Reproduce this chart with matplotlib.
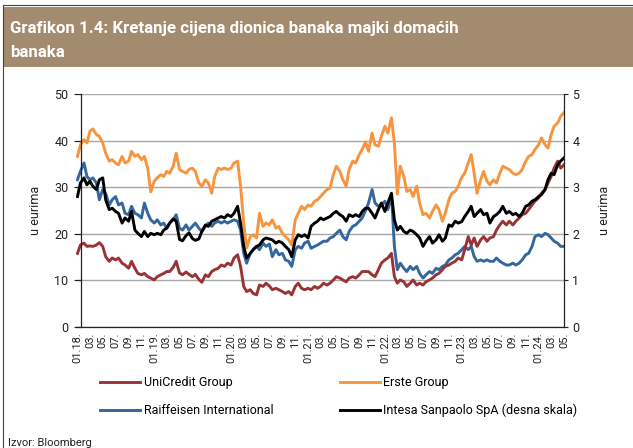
import pandas as pd
import matplotlib
matplotlib.use('Agg')
import matplotlib.pyplot as plt
import matplotlib.dates as mdates
from matplotlib.lines import Line2D
from matplotlib.patches import Rectangle

plt.rcParams['font.family'] = ['Roboto', 'DejaVu Sans']

# semi-monthly readings, 01.2018 - 05.2024
dates = pd.date_range('2018-01-01', '2024-05-01', freq='SMS')

unicredit = [
    15.8, 17.6, 18.0, 17.3, 17.4, 17.3, 17.6, 18.1, 17.3, 15.1, 14.1, 14.8,
    14.4, 14.8, 13.7, 13.3, 12.6, 14.1, 12.6, 11.5, 11.2, 11.5, 10.8, 10.5,
    10.1, 10.8, 11.2, 11.5, 11.9, 11.9, 12.8, 14.1, 11.6, 11.2, 11.8, 11.3,
    10.8, 11.3, 10.2, 9.6, 11.2, 10.8, 11.9, 12.3, 12.6, 13.3, 13.0, 13.7,
    13.3, 14.8, 15.5, 13.0, 8.7, 7.6, 8.0, 7.2, 6.9, 9.0, 8.7, 9.4,
    8.8, 8.0, 8.3, 8.0, 7.6, 7.2, 7.6, 6.9, 8.7, 9.4, 8.3, 8.0,
    8.3, 8.0, 8.7, 8.3, 8.7, 9.4, 9.0, 9.4, 10.1, 10.8, 10.5, 10.1,
    9.7, 10.5, 10.8, 10.5, 11.2, 11.9, 11.9, 11.9, 11.2, 10.8, 12.3, 13.7,
    14.4, 14.8, 15.8, 10.8, 9.4, 10.1, 9.7, 8.7, 9.4, 10.1, 9.0, 9.4,
    9.0, 9.7, 10.1, 10.5, 11.2, 11.5, 12.3, 13.0, 13.3, 13.7, 14.1, 14.8,
    14.4, 16.6, 19.4, 17.6, 19.1, 17.3, 18.7, 19.4, 18.4, 19.1, 19.4, 20.8,
    21.9, 22.7, 21.9, 22.7, 21.9, 22.7, 23.4, 24.1, 24.4, 25.2, 26.2, 27.0,
    27.7, 28.7, 29.5, 30.9, 32.3, 34.1, 35.6, 34.1, 34.8]

erste = [
    36.6, 39.1, 40.2, 39.5, 42.0, 42.5, 41.3, 40.9, 39.5, 37.3, 35.6, 35.9,
    35.2, 34.8, 36.6, 35.2, 35.6, 37.7, 36.6, 37.0, 35.9, 36.6, 34.1, 29.0,
    31.3, 32.0, 32.7, 32.3, 33.4, 33.0, 34.5, 37.3, 33.8, 33.4, 33.0, 33.8,
    34.1, 33.4, 30.9, 30.2, 31.6, 30.9, 28.7, 32.3, 34.1, 33.8, 34.1, 33.8,
    34.1, 35.2, 35.6, 30.2, 22.3, 17.0, 19.4, 19.8, 19.1, 24.4, 21.6, 22.3,
    21.9, 23.0, 21.2, 21.6, 20.1, 19.4, 18.7, 17.6, 23.0, 24.4, 25.9, 25.2,
    26.2, 25.9, 27.0, 27.3, 28.0, 28.7, 29.5, 29.8, 32.7, 34.5, 33.4, 31.6,
    30.2, 33.8, 35.6, 35.2, 37.0, 38.1, 39.7, 37.7, 41.6, 39.1, 38.8, 40.9,
    43.1, 41.6, 44.9, 39.5, 28.5, 34.5, 32.3, 29.1, 29.5, 28.0, 30.2, 26.6,
    24.1, 24.4, 23.4, 24.8, 26.2, 25.2, 22.7, 24.4, 27.3, 28.7, 29.1, 30.2,
    32.1, 33.0, 35.2, 37.0, 33.0, 28.7, 31.6, 33.4, 31.3, 30.5, 31.6, 30.9,
    33.0, 34.5, 34.1, 33.8, 33.0, 32.7, 33.0, 33.8, 35.6, 36.6, 37.0, 38.1,
    39.1, 40.6, 39.1, 38.4, 41.3, 43.1, 43.8, 45.2, 46.0]

raiffeisen = [
    31.6, 33.4, 35.2, 32.3, 31.6, 32.0, 30.9, 27.3, 29.5, 28.7, 26.2, 27.3,
    28.0, 26.2, 26.6, 24.4, 24.1, 25.9, 24.4, 24.1, 23.4, 26.6, 24.4, 23.0,
    22.3, 23.0, 21.9, 22.3, 21.2, 22.3, 23.0, 24.1, 21.2, 20.8, 21.9, 20.8,
    21.6, 22.3, 21.2, 20.5, 21.6, 22.3, 21.6, 22.3, 22.7, 22.3, 22.7, 22.3,
    22.7, 23.0, 22.7, 20.8, 15.8, 13.7, 15.8, 16.6, 17.3, 16.6, 18.0, 17.3,
    17.8, 15.1, 16.6, 15.5, 15.8, 14.4, 14.1, 13.0, 16.6, 17.3, 16.9, 18.0,
    18.4, 16.9, 17.3, 17.6, 18.0, 18.4, 18.4, 19.1, 19.4, 20.1, 20.8, 19.4,
    18.7, 20.5, 21.6, 21.9, 22.7, 23.4, 25.0, 26.6, 29.5, 26.6, 25.9, 26.2,
    27.0, 25.2, 28.4, 17.3, 12.3, 13.7, 12.6, 11.9, 13.0, 12.3, 13.0, 11.5,
    10.5, 11.2, 11.9, 11.5, 12.6, 12.3, 13.0, 13.3, 14.4, 14.8, 15.5, 15.8,
    16.6, 17.3, 16.6, 17.3, 15.1, 14.1, 14.4, 14.1, 14.4, 14.1, 14.1, 14.8,
    14.1, 13.7, 13.3, 13.3, 13.7, 13.3, 13.7, 14.4, 15.5, 15.8, 17.3, 19.4,
    19.8, 19.4, 20.1, 19.8, 19.1, 18.4, 18.0, 17.3, 17.3]

# right axis
intesa = [
    2.80, 3.09, 3.20, 3.05, 3.13, 3.02, 2.95, 3.16, 3.20, 2.73, 2.52, 2.55,
    2.48, 2.44, 2.23, 2.34, 2.27, 2.48, 2.08, 2.01, 1.94, 2.05, 1.94, 2.01,
    1.98, 2.01, 1.98, 2.08, 2.12, 2.23, 2.32, 2.27, 1.88, 1.85, 1.96, 2.02,
    1.90, 1.86, 1.89, 2.05, 2.19, 2.16, 2.27, 2.30, 2.34, 2.37, 2.34, 2.41,
    2.37, 2.44, 2.59, 2.23, 1.73, 1.48, 1.58, 1.66, 1.73, 1.76, 1.87, 1.91,
    1.89, 1.87, 1.80, 1.84, 1.80, 1.73, 1.66, 1.51, 1.87, 1.98, 1.94, 1.98,
    1.91, 2.16, 2.23, 2.27, 2.34, 2.30, 2.34, 2.37, 2.44, 2.48, 2.41, 2.37,
    2.27, 2.41, 2.37, 2.41, 2.37, 2.48, 2.55, 2.55, 2.44, 2.34, 2.52, 2.66,
    2.48, 2.66, 2.87, 2.30, 2.08, 2.16, 2.05, 2.01, 2.08, 2.05, 1.98, 1.91,
    1.73, 1.84, 1.94, 1.80, 1.87, 1.98, 1.84, 1.91, 2.19, 2.16, 2.27, 2.23,
    2.26, 2.37, 2.48, 2.59, 2.37, 2.44, 2.52, 2.41, 2.44, 2.23, 2.37, 2.41,
    2.48, 2.59, 2.44, 2.48, 2.41, 2.44, 2.37, 2.44, 2.59, 2.62, 2.70, 2.73,
    2.80, 2.84, 2.95, 3.16, 3.30, 3.27, 3.48, 3.56, 3.63]

labels = ['UniCredit Group', 'Raiffeisen International', 'Erste Group',
          'Intesa Sanpaolo SpA (desna skala)']
c_red, c_orange, c_blue = '#9A3335', '#F7953F', '#33679E'

W, H = 633, 448
fig = plt.figure(figsize=(W / 100, H / 100), dpi=100)

# title bar and frame
fig.patches.append(Rectangle((4 / W, 1 - 67 / H), 1, 60 / H, transform=fig.transFigure,
                             facecolor='#A38B6F', edgecolor='none'))
fig.lines.append(Line2D([3 / W, 3 / W], [0, 1 - 5 / H], transform=fig.transFigure, color='#444444', lw=0.8))
fig.lines.append(Line2D([3 / W, 1], [1 - 5 / H, 1 - 5 / H], transform=fig.transFigure, color='#444444', lw=0.8))
fig.text(10 / W, 1 - 33 / H, 'Grafikon 1.4: Kretanje cijena dionica banaka majki domaćih',
         color='white', fontsize=12.2, fontweight='semibold', va='baseline')
fig.text(10 / W, 1 - 57 / H, 'banaka', color='white', fontsize=12.2, fontweight='semibold', va='baseline')

ax = fig.add_axes([76 / W, 1 - 327 / H, 488 / W, 233 / H])
ax2 = ax.twinx()

ax.plot(dates, raiffeisen, color=c_blue, lw=2.1, label=labels[1])
ax.plot(dates, unicredit, color=c_red, lw=2.1, label=labels[0])
ax.plot(dates, erste, color=c_orange, lw=2.1, label=labels[2])
ax2.plot(dates, intesa, color='black', lw=2.1, label=labels[3])

ax.set_xlim(pd.Timestamp('2017-12-25'), pd.Timestamp('2024-05-01'))
ax.set_ylim(0, 50)
ax2.set_ylim(0, 5)
ax.set_yticks(range(0, 51, 10))
ax2.set_yticks(range(0, 6))

ticks = pd.date_range('2018-01-01', '2024-05-01', freq='2MS')
ax.set_xticks(ticks)
ax.set_xticklabels([t.strftime('%m.%y.') if t.month == 1 else t.strftime('%m.') for t in ticks],
                   rotation=90, fontsize=8)
ax.tick_params(axis='x', length=0, pad=4, colors='#222222')
ax.tick_params(axis='y', length=5, pad=4, labelsize=9, colors='#222222')
ax2.tick_params(axis='y', length=3, pad=3, labelsize=9, colors='#222222')

ax.grid(axis='y', color='#A8A8A8', lw=1.0)
ax.set_axisbelow(True)
ax.spines['left'].set_position(('data', mdates.date2num(pd.Timestamp('2018-01-18'))))
ax.spines['top'].set_visible(False)
ax.spines['right'].set_visible(False)
for s in ['left', 'top', 'bottom']:
    ax2.spines[s].set_visible(False)
for s in [ax.spines['left'], ax.spines['bottom'], ax2.spines['right']]:
    s.set_color('#222222')
    s.set_linewidth(0.9)

ax.set_ylabel('u eurima', fontsize=9, color='#222222', labelpad=9)
ax2.set_ylabel('u eurima', fontsize=9, color='#222222', rotation=90, labelpad=13)

h1, _ = ax.get_legend_handles_labels()
h2, _ = ax2.get_legend_handles_labels()
handles = [h1[1], h1[0], h1[2], h2[0]]
fig.legend(handles, labels, ncol=2, loc='upper left', bbox_to_anchor=(100 / W, 1 - 376 / H),
           frameon=False, fontsize=9, handlelength=3.2, handletextpad=0.3,
           columnspacing=5.3, labelspacing=1.2, borderpad=0, borderaxespad=0)

fig.text(8 / W, 1 - 446 / H, 'Izvor: Bloomberg', fontsize=8, color='#222222', va='baseline')

fig.savefig('out.png', dpi=100)
